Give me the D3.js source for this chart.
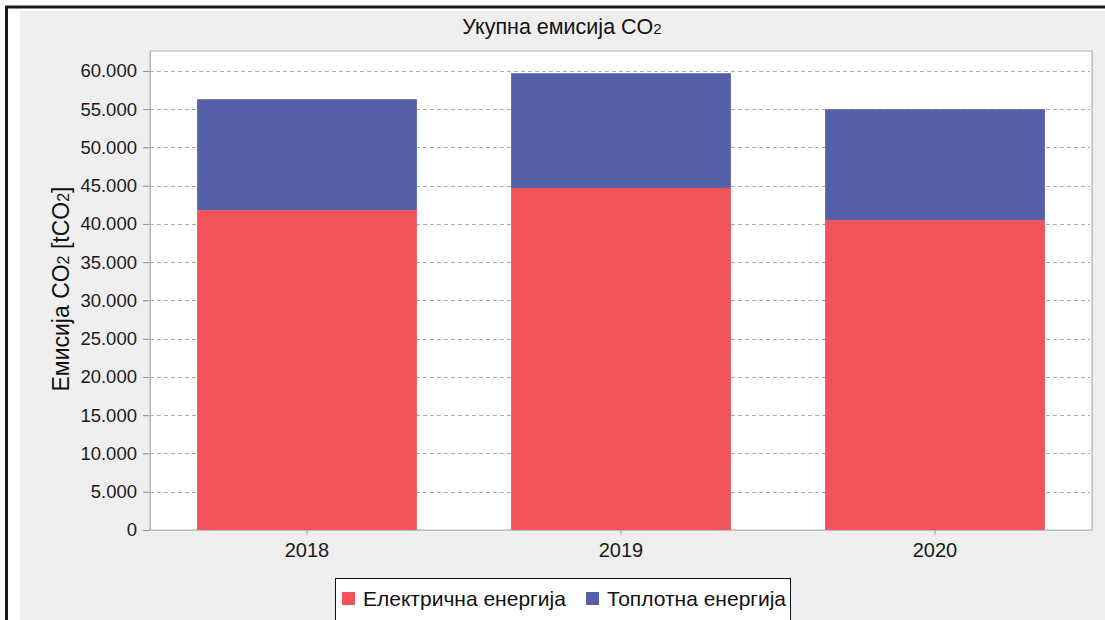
<!DOCTYPE html>
<html>
<head>
<meta charset="utf-8">
<script src="https://cdn.jsdelivr.net/npm/d3@7"></script>
<style>
	body { margin: 0; background: #fff; }
	svg { display: block; font-family: "Liberation Sans", Arial, sans-serif; }
</style>
</head>
<body>
<div class="chart"></div>
<script>

const years = ['2018', '2019', '2020'];
const electric = [41800, 44700, 40500];
const heat = [14500, 15000, 14500];
const yTicks = [0, 5000, 10000, 15000, 20000, 25000, 30000, 35000, 40000, 45000, 50000, 55000, 60000];
const seriesNames = ['Електрична енергија', 'Топлотна енергија'];
const colors = ['#f05458', '#5660a9'];

const width = 1105;
const height = 620;
const plot = { left: 150, top: 51, right: 1092, bottom: 530 };

const svg = d3.select('.chart').append('svg')
	.attr('width', width)
	.attr('height', height);

// outer frame
svg.append('rect')
	.attr('x', 0).attr('y', 0)
	.attr('width', width).attr('height', height)
	.attr('fill', '#fff');
svg.append('path')
	.attr('d', `M6.5,${height} V7 H${width}`)
	.attr('fill', 'none')
	.attr('stroke', '#1a1a1a')
	.attr('stroke-width', 3);
svg.append('rect')
	.attr('x', 20).attr('y', 11)
	.attr('width', width - 20).attr('height', height - 11)
	.attr('fill', '#eeefee');

const x = d3.scaleBand()
	.domain(years)
	.range([plot.left, plot.right])
	.paddingInner(0.3)
	.paddingOuter(0.15);

const y = d3.scaleLinear()
	.domain([0, 62600])
	.range([plot.bottom, plot.top]);

// plot background
svg.append('rect')
	.attr('x', plot.left + 1).attr('y', plot.top + 1)
	.attr('width', plot.right - plot.left).attr('height', plot.bottom - plot.top)
	.attr('fill', '#c8c8c8');
svg.append('rect')
	.attr('x', plot.left).attr('y', plot.top)
	.attr('width', plot.right - plot.left).attr('height', plot.bottom - plot.top)
	.attr('fill', '#fff')
	.attr('stroke', '#b4b4b4')
	.attr('stroke-width', 1);

// grid
svg.selectAll('.grid')
	.data(yTicks.filter(d => d > 0))
	.enter()
	.append('line')
	.attr('class', 'grid')
	.attr('x1', plot.left - 7)
	.attr('x2', plot.right - 2)
	.attr('y1', d => Math.round(y(d)) + 0.5)
	.attr('y2', d => Math.round(y(d)) + 0.5)
	.attr('stroke', '#aaa')
	.attr('stroke-width', 1)
	.attr('stroke-dasharray', '4,3');

// stacked bars
const rows = years.map((yr, i) => ({ year: yr, electric: electric[i], heat: heat[i] }));
const stacked = d3.stack().keys(['electric', 'heat'])(rows);

svg.selectAll('.layer')
	.data(stacked)
	.enter()
	.append('g')
	.attr('class', 'layer')
	.attr('fill', (d, i) => colors[i])
	.selectAll('rect')
	.data(d => d)
	.enter()
	.append('rect')
	.attr('x', d => x(d.data.year))
	.attr('width', x.bandwidth())
	.attr('y', d => y(d[1]))
	.attr('height', d => y(d[0]) - y(d[1]));

// axes
const yAxis = d3.axisLeft(y)
	.tickValues(yTicks)
	.tickSize(7)
	.tickPadding(6)
	.tickFormat(d => d === 0 ? '0' : d3.format(',')(d).replace(/,/g, '.'));

const gy = svg.append('g')
	.attr('transform', `translate(${plot.left},0)`)
	.call(yAxis);
gy.select('.domain').attr('stroke', '#b4b4b4').attr('d', `M0.5,${plot.top}V${plot.bottom}`);
gy.selectAll('.tick line').attr('stroke', '#999');
gy.selectAll('.tick text')
	.attr('font-size', 18.5)
	.attr('fill', '#1a1a1a');

const xAxis = d3.axisBottom(x)
	.tickSize(5)
	.tickPadding(8);

const gx = svg.append('g')
	.attr('transform', `translate(0,${plot.bottom})`)
	.call(xAxis);
gx.select('.domain').remove();
gx.selectAll('.tick line').attr('stroke', '#999');
gx.selectAll('.tick text')
	.attr('font-size', 20)
	.attr('fill', '#1a1a1a');

// title
const title = svg.append('text')
	.attr('x', 562)
	.attr('y', 34)
	.attr('text-anchor', 'middle')
	.attr('font-size', 21.5)
	.attr('fill', '#111')
	.text('Укупна емисија CO');
title.append('tspan').attr('font-size', 15).text('2');

// y axis label
const ylab = svg.append('text')
	.attr('transform', 'translate(69,289) rotate(-90)')
	.attr('text-anchor', 'middle')
	.attr('font-size', 23)
	.attr('fill', '#111')
	.text('Емисија CO');
ylab.append('tspan').attr('font-size', 16).text('2');
ylab.append('tspan').text(' [tCO');
ylab.append('tspan').attr('font-size', 16).text('2');
ylab.append('tspan').text(']');

// legend
const legend = svg.append('g');
legend.append('rect')
	.attr('x', 335.5).attr('y', 578.5)
	.attr('width', 455).attr('height', 44)
	.attr('fill', '#fff')
	.attr('stroke', '#111')
	.attr('stroke-width', 1);

const legendX = [342, 586];
seriesNames.forEach((name, i) => {
	legend.append('rect')
		.attr('x', legendX[i])
		.attr('y', 592)
		.attr('width', 13)
		.attr('height', 13)
		.attr('fill', colors[i]);
	legend.append('text')
		.attr('x', legendX[i] + 21)
		.attr('y', 606)
		.attr('font-size', 21)
		.attr('fill', '#111')
		.text(name);
});

</script>
</body>
</html>
